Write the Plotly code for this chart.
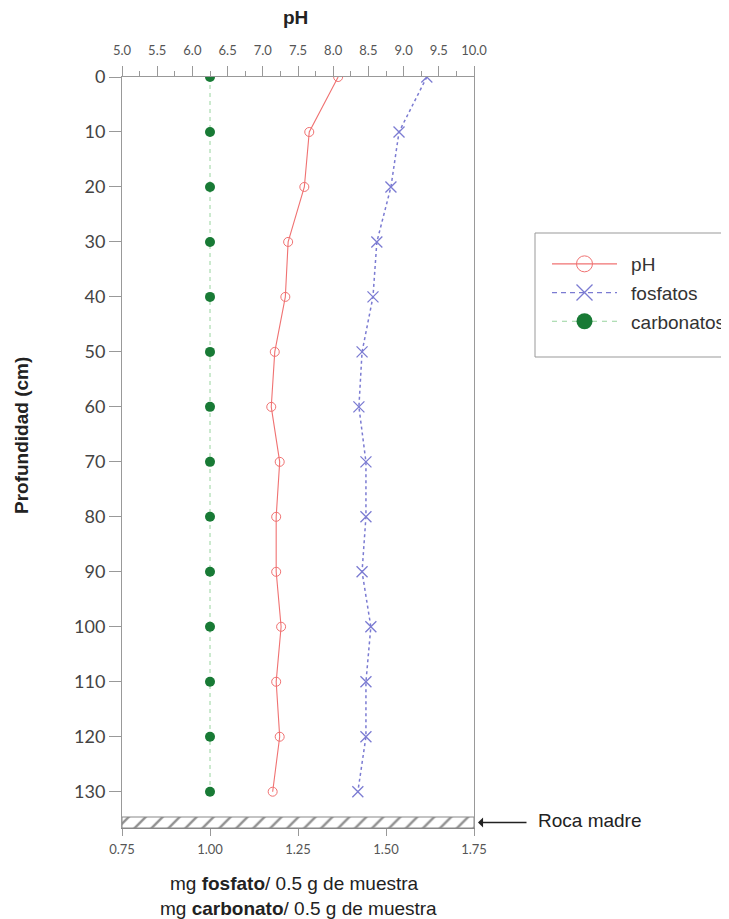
import plotly.graph_objects as go

# ---- data ----
profundidad = [0, 10, 20, 30, 40, 50, 60, 70, 80, 90, 100, 110, 120, 130]
ph = [8.07, 7.66, 7.59, 7.36, 7.32, 7.17, 7.12, 7.24, 7.19, 7.19, 7.26, 7.19, 7.24, 7.14]
fosfatos = [1.616, 1.537, 1.514, 1.474, 1.463, 1.432, 1.423, 1.443, 1.443, 1.432, 1.457, 1.443, 1.443, 1.420]
carbonatos = [1.00] * 14
roca_madre = [134.6, 136.6]          # depth interval of bedrock band (cm)
x_range = [0.75, 1.75]
ph_range = [5.0, 10.0]
y_ticks = list(range(0, 131, 10))
x_ticks = [0.75, 1.00, 1.25, 1.50, 1.75]
x_ticklabels = ["0.75", "1.00", "1.25", "1.50", "1.75"]

RED = "#f07272"
BLUE = "#7b7bd2"
GREEN_M = "#187a35"
GREEN_L = "#98d49e"
TICKFONT = "Lato"
TXT = "Liberation Sans"

# page-pixel -> paper helpers (page has an 8px body margin)
def px(xr):
    return (xr - 122) / 352

def py(yr):
    return 1 - (yr - 77) / 751

fig = go.Figure()

# bedrock hatched band
fig.add_trace(go.Scatter(
    x=[x_range[0], x_range[1], x_range[1], x_range[0], x_range[0]],
    y=[roca_madre[0], roca_madre[0], roca_madre[1], roca_madre[1], roca_madre[0]],
    mode="lines", fill="toself", fillcolor="white",
    fillpattern=dict(shape="/", fgcolor="#222222", bgcolor="white", size=12, solidity=0.2),
    line=dict(color="#888888", width=1), showlegend=False, hoverinfo="skip",
    xaxis="x", yaxis="y"))

fig.add_trace(go.Scatter(
    x=carbonatos, y=profundidad, mode="lines+markers", name="carbonatos",
    line=dict(color=GREEN_L, width=1, dash="4px,4px"),
    marker=dict(symbol="circle", size=10, color=GREEN_M),
    showlegend=False, xaxis="x", yaxis="y"))

fig.add_trace(go.Scatter(
    x=fosfatos, y=profundidad, mode="lines+markers", name="fosfatos",
    line=dict(color=BLUE, width=1.5, dash="dot"),
    marker=dict(symbol="x-thin-open", size=11, line=dict(color=BLUE, width=1.3)),
    showlegend=False, xaxis="x", yaxis="y"))

fig.add_trace(go.Scatter(
    x=ph, y=profundidad, mode="lines+markers", name="pH",
    line=dict(color=RED, width=1.1),
    marker=dict(symbol="circle-open", size=9, color=RED, line=dict(color=RED, width=1)),
    showlegend=False, xaxis="x2", yaxis="y"))

# legend entries (larger markers like the reference)
SP = "\u00a0\u2009"
fig.add_trace(go.Scatter(x=[None], y=[None], mode="lines+markers", name=SP + "pH",
    legendgroup="a", line=dict(color=RED, width=1.1),
    marker=dict(symbol="circle-open", size=16, color=RED, line=dict(color=RED, width=1)),
    xaxis="x2", yaxis="y"))
fig.add_trace(go.Scatter(x=[None], y=[None], mode="lines+markers", name=SP + "fosfatos",
    legendgroup="b", line=dict(color=BLUE, width=1.3, dash="5px,4px"),
    marker=dict(symbol="x-thin-open", size=16, line=dict(color=BLUE, width=1.3)),
    xaxis="x", yaxis="y"))
fig.add_trace(go.Scatter(x=[None], y=[None], mode="lines+markers", name=SP + "carbonatos",
    legendgroup="c", line=dict(color=GREEN_L, width=1, dash="5px,5px"),
    marker=dict(symbol="circle", size=16, color=GREEN_M),
    xaxis="x", yaxis="y"))

fig.update_layout(
    width=721, height=911,
    margin=dict(l=114, r=255, t=69, b=91, autoexpand=False),
    plot_bgcolor="white", paper_bgcolor="white",
    font=dict(family=TXT, color="#333333"),
    xaxis=dict(range=x_range, tickvals=x_ticks, ticktext=x_ticklabels,
               ticks="outside", ticklen=7, tickcolor="#999999",
               tickfont=dict(family=TICKFONT, size=13, color="#555555"),
               ticklabelstandoff=2,
               showline=True, linecolor="#888888", linewidth=1,
               showgrid=False, zeroline=False),
    xaxis2=dict(range=ph_range, overlaying="x", side="top", anchor="y",
                dtick=0.5, tick0=5, tickformat=".1f",
                ticks="outside", ticklen=10, tickcolor="#999999",
                minor=dict(dtick=0.25, ticks="outside", ticklen=5, tickcolor="#999999"),
                tickfont=dict(family=TICKFONT, size=13, color="#555555"),
                ticklabelstandoff=6,
                showline=True, linecolor="#999999", linewidth=1,
                showgrid=False, zeroline=False),
    yaxis=dict(range=[roca_madre[1], 0], tickvals=y_ticks,
               ticks="outside", ticklen=12, tickcolor="#999999",
               tickfont=dict(family=TICKFONT, size=18, color="#444444"),
               showline=True, mirror=True, linecolor="#999999", linewidth=1,
               showgrid=False, zeroline=False),
    legend=dict(x=px(547), y=py(245), xanchor="left", yanchor="top",
                bgcolor="rgba(0,0,0,0)", borderwidth=0,
                font=dict(family=TXT, size=19, color="#333333"),
                itemwidth=65, tracegroupgap=1),
    showlegend=True,
)

# legend frame
fig.add_shape(type="rect", xref="paper", yref="paper",
              x0=px(535), x1=px(745), y0=py(357), y1=py(233),
              line=dict(color="#999999", width=1), fillcolor="rgba(0,0,0,0)")

# titles
fig.add_annotation(text="<b>pH</b>", xref="paper", yref="paper", x=px(295), y=py(18),
                   xanchor="center", yanchor="middle",
                   showarrow=False, font=dict(family=TXT, size=19, color="#222222"))
fig.add_annotation(text="<b>Profundidad (cm)</b>", xref="paper", yref="paper",
                   x=px(22), y=py(435), textangle=-90, xanchor="center", yanchor="middle",
                   showarrow=False, font=dict(family=TXT, size=19, color="#222222"))
fig.add_annotation(text="mg <b>fosfato</b>/ 0.5 g de muestra", xref="paper", yref="paper",
                   x=px(294), y=py(883), xanchor="center", yanchor="middle", showarrow=False,
                   font=dict(family=TXT, size=19, color="#222222"))
fig.add_annotation(text="mg <b>carbonato</b>/ 0.5 g de muestra", xref="paper", yref="paper",
                   x=px(298), y=py(909), xanchor="center", yanchor="middle", showarrow=False,
                   font=dict(family=TXT, size=19, color="#222222"))

# Roca madre arrow + label
ymid = sum(roca_madre) / 2
fig.add_annotation(text="", xref="paper", yref="y", x=px(478), y=ymid,
                   ax=50, ay=0, showarrow=True, arrowhead=1, arrowsize=1.3, arrowwidth=1.3,
                   arrowcolor="#222222")
fig.add_annotation(text="Roca madre", xref="paper", yref="y", x=px(536), y=ymid - 0.4,
                   xanchor="left", yanchor="middle", showarrow=False,
                   font=dict(family=TXT, size=19, color="#222222"))

fig.write_html("out.html")
